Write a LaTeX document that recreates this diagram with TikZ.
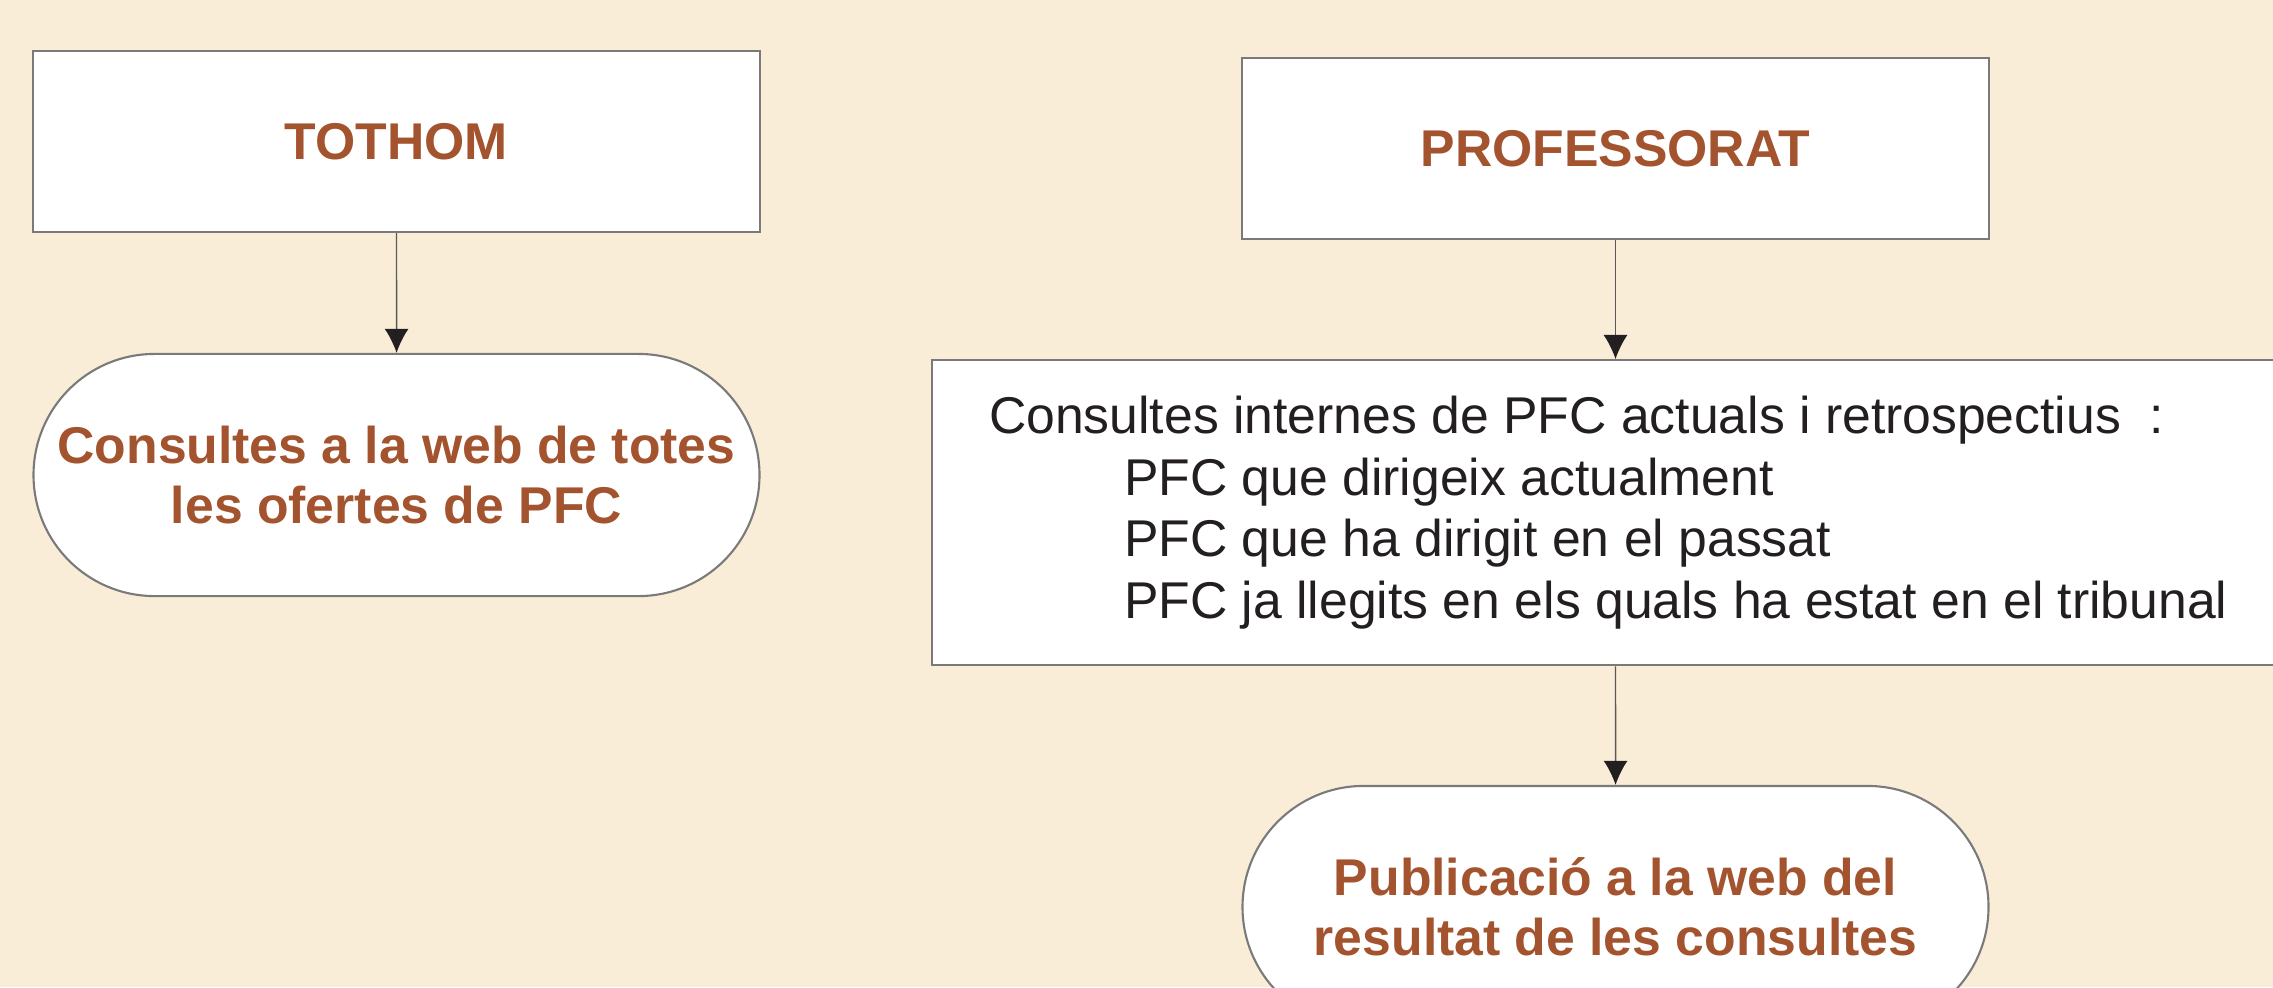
\documentclass[tikz,border=0pt]{standalone}
\usepackage{fontspec}
\setmainfont{Liberation Sans}
\usetikzlibrary{arrows.meta,positioning,shapes.misc}
\definecolor{paper}{HTML}{F9EDD8}
\definecolor{rust}{HTML}{A3532D}
\definecolor{frame}{HTML}{7A7A7A}
\definecolor{ink}{HTML}{231F20}
\tikzset{actor/.style={draw=frame,fill=white,line width=0.6pt,minimum height=1.81cm,text=rust,font=\fontsize{14.7}{17.6}\selectfont\bfseries},
  web/.style={rounded rectangle,draw=frame,fill=white,line width=0.6pt,minimum width=7.49cm,minimum height=2.42cm,align=center,text=rust,font=\fontsize{14.7}{17.2}\selectfont\bfseries},
  flow/.style={->,draw=ink!75,line width=0.4pt}}

\begin{document}
\begin{tikzpicture}[x=0.01cm, y=-0.01cm, >={Latex[length=2.4mm,width=2.4mm,color=ink]}]
    \fill[paper] (0,0) rectangle (2273,987);
    \useasboundingbox (0,0) rectangle (2273,987);
    % left column
    \node[actor,minimum width=7.27cm] (tothom) at (396.5,141.5) {TOTHOM};
    \node[web] (ofertes) at (396.5,475) {Consultes a la web de totes\\les ofertes de PFC};
    % right column
    \node[actor,minimum width=7.47cm] (prof) at (1615.5,148.5) {PROFESSORAT};
    \node[draw=frame,fill=white,line width=0.6pt,anchor=north west,minimum height=3.05cm,
          text width=12.9cm,align=flush left,inner xsep=0.57cm,inner ysep=0pt,font=\fontsize{14.7}{17.6}\selectfont,text=ink] (internes) at (931,359)
          {Consultes internes de PFC actuals i retrospectius~~:\\
           \hspace*{1.35cm}PFC que dirigeix actualment\\
           \hspace*{1.35cm}PFC que ha dirigit en el passat\\
           \hspace*{1.35cm}PFC ja llegits en els quals ha estat en el tribunal};
    \node[web,minimum width=7.69cm] (publicacio) at (1615.5,907) {Publicació a la web del\\resultat de les consultes};
    \draw[flow] (tothom) -- (ofertes);
    \draw[flow] (prof) -- (prof |- internes.north);
    \draw[flow] (publicacio |- internes.south) -- (publicacio);
\end{tikzpicture}
\end{document}
